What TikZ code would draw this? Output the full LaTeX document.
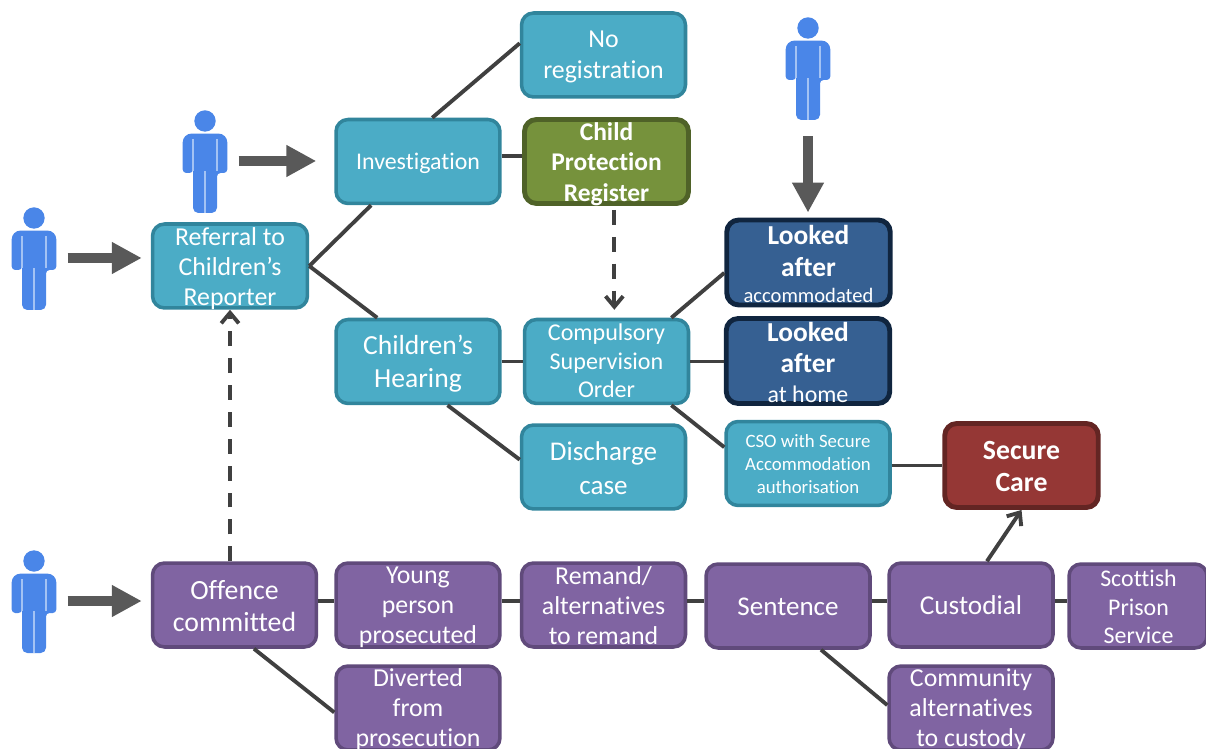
\documentclass[tikz,border=0pt]{standalone}
\usepackage{fontspec}
\setmainfont{Carlito}[Ligatures=NoCommon]
\usetikzlibrary{arrows.meta}

\definecolor{tealfill}{HTML}{4BACC6}
\definecolor{tealline}{HTML}{31859C}
\definecolor{purplefill}{HTML}{8064A2}
\definecolor{purpleline}{HTML}{604A7B}
\definecolor{navyfill}{HTML}{366092}
\definecolor{navyline}{HTML}{10253F}
\definecolor{greenfill}{HTML}{76923C}
\definecolor{greenline}{HTML}{4F6228}
\definecolor{redfill}{HTML}{953735}
\definecolor{redline}{HTML}{632523}
\definecolor{personblue}{HTML}{4A86E8}
\definecolor{arrowgrey}{HTML}{595959}
\definecolor{linkgrey}{HTML}{404040}

\tikzset{
    box/.style={rectangle, rounded corners=0.24cm, minimum width=3.28cm, minimum height=1.68cm, inner sep=0pt, line width=2pt},
    tealbox/.style={box, draw=tealline, fill=tealfill},
    purplebox/.style={box, draw=purpleline, fill=purplefill},
    navybox/.style={box, draw=navyline, fill=navyfill, line width=2.8pt, minimum width=3.27cm, minimum height=1.7cm},
    greenbox/.style={box, draw=greenline, fill=greenfill, line width=2.8pt},
    redbox/.style={box, draw=redline, fill=redfill, line width=2.8pt},
    every label/.style={inner sep=0pt, align=center, text=white, yshift=-1.1pt, font=\fontsize{14.7}{17}\selectfont},
    link/.style={draw=linkgrey, line width=2.2pt},
    dashlink/.style={link, dash pattern=on 8.5pt off 6.8pt, -{Straight Barb[length=6pt,width=10pt]}},
    bigarrow/.style={draw=arrowgrey, line width=5.7pt, -{Triangle[length=17pt,width=17pt]}},
    pics/person/.style={code={
        \node[inner sep=0pt, minimum width=0.89cm, minimum height=2.04cm] (-box) at (0,40) {};
        \fill[personblue] (0,0) circle (10.7);
        \fill[personblue, rounded corners=2pt] (-12,50) [rounded corners=2pt] -- (-12,52) -- (-22.3,52) -- (-22.3,30) [rounded corners=5pt] -- (-22.3,12.6) -- (22.3,12.6) -- (22.3,30) [rounded corners=2pt] -- (22.3,52) -- (12,52) [rounded corners=3pt] -- (12,92) -- (0,92) -- (-12,92) [rounded corners=2pt] -- cycle;
        \draw[white!50!personblue, line width=0.6pt] (-12,18) -- (-12,50) (12,18) -- (12,50) (0,50) -- (0,92);
    }}
}

\begin{document}
\begin{tikzpicture}[x=0.02cm,y=-0.02cm]

    \clip (0,0) rectangle (1206,749);

    % these are the people
    \pic (first) at (34,218) {person};
    \pic (second) at (205,121) {person};
    \pic (third) at (808,28) {person};
    \pic (fourth) at (34,561) {person};

    % the welfare side
    \node[tealbox, minimum width=3.1cm, label={[yshift=-0.5pt]center:Referral to\\Children’s\\Reporter}] (referral) at (230,266) {};
    \node[tealbox, label={[font=\fontsize{13.6}{17}\selectfont]center:Investigation}] (investigation) at (418,161.5) {};
    \node[tealbox, label={[font=\fontsize{14.7}{17.6}\selectfont]center:No\\registration}] (noreg) at (603.5,55) {};
    \node[greenbox, label={[yshift=-0.3pt, font=\fontsize{14.5}{17.3}\selectfont\bfseries]center:Child\\Protection\\Register}] (register) at (606.5,161.5) {};
    \node[tealbox, label={[font=\fontsize{15.7}{19}\selectfont]center:Children’s\\Hearing}] (hearing) at (418,361.5) {};
    \node[tealbox, label={[yshift=1.4pt, font=\fontsize{13.7}{16.3}\selectfont]center:Compulsory\\Supervision\\Order}] (supervision) at (606.5,361.5) {};
    \node[tealbox, label={[yshift=0.5pt, font=\fontsize{15.4}{19}\selectfont]center:Discharge\\case}] (discharge) at (603.5,467) {};
    \node[navybox, label={[font=\fontsize{15.6}{18}\selectfont]center:\textbf{Looked}\\\textbf{after}\\[-3pt]{\fontsize{11.7}{15}\selectfont accommodated}}] (accommodated) at (808.5,262.5) {};
    \node[navybox, label={[yshift=0.4pt, font=\fontsize{15.6}{18}\selectfont]center:\textbf{Looked}\\\textbf{after}\\[-1pt]{\fontsize{13.6}{15}\selectfont at home}}] (athome) at (808,361) {};
    \node[tealbox, label={[yshift=0.7pt, font=\fontsize{10.7}{13}\selectfont]center:CSO with Secure\\Accommodation\\authorisation}] (securecso) at (808,463.5) {};
    \node[redbox, minimum width=3.07cm, label={[yshift=0.5pt, font=\fontsize{15.8}{18.5}\selectfont\bfseries]center:Secure\\Care}] (securecare) at (1021.5,465.5) {};

    % the offending side
    \node[purplebox, label={[yshift=0.5pt, font=\fontsize{15.8}{18}\selectfont]center:Offence\\committed}] (offence) at (234.5,605) {};
    \node[purplebox, label={center:Young\\person\\prosecuted}] (young) at (418,605) {};
    \node[purplebox, label={[yshift=0.7pt]center:Remand/\\alternatives\\to remand}] (remand) at (603.5,605) {};
    \node[purplebox, label={[yshift=0.5pt, font=\fontsize{15.4}{18}\selectfont]center:Sentence}] (sentence) at (788,606) {};
    \node[purplebox, label={[yshift=1pt, font=\fontsize{15.5}{18}\selectfont]center:Custodial}] (custodial) at (971,605) {};
    \node[purplebox, minimum width=2.76cm, label={[yshift=0.6pt, xshift=0.3pt, font=\fontsize{13.6}{16.4}\selectfont]center:Scottish\\Prison\\Service}] (prison) at (1138,606) {};
    \node[purplebox, label={center:Diverted\\from\\prosecution}] (diverted) at (418,708) {};
    \node[purplebox, label={center:Community\\alternatives\\to custody}] (community) at (971,708) {};

    % the big arrows
    \draw[bigarrow, shorten <=0.22cm, shorten >=0.18cm] (first-box) -- (first-box -| referral.west);
    \draw[bigarrow, shorten <=0.22cm, shorten >=0.36cm] (second-box) -- (second-box -| investigation.west);
    \draw[bigarrow, shorten <=0.34cm, shorten >=0.1cm] (third-box) -- (third-box |- accommodated.north);
    \draw[bigarrow, shorten <=0.22cm, shorten >=0.18cm] (fourth-box) -- (fourth-box -| offence.west);

    % these are the links
    \draw[link] (referral.east) -- (investigation.223);
    \draw[link] (referral.east) -- (hearing.133);
    \draw[link] (investigation.72) -- (noreg.172);
    \draw[link] (investigation.4) -- (investigation.4 -| register.west);
    \draw[link] (hearing) -- (supervision);
    \draw[link] (hearing.-56) -- (discharge.175);
    \draw[link] (supervision.34) -- (accommodated.187);
    \draw[link] (supervision.east) -- (supervision.east -| athome.west);
    \draw[link] (supervision.-34) -- (securecso.169);
    \draw[link] (securecare.west -| securecso.east) -- (securecare.west);
    \draw[link] (offence.3) -- (offence.3 -| young.west);
    \draw[link] (young.3) -- (young.3 -| remand.west);
    \draw[link] (remand.3) -- (remand.3 -| sentence.west);
    \draw[link] (custodial.177) -- (custodial.177 -| sentence.east);
    \draw[link] (custodial.3) -- (custodial.3 -| prison.west);
    \draw[link] (offence.-66) -- (diverted.183);
    \draw[link] (sentence.-53) -- (community.178);
    \draw[link, -{Straight Barb[length=6pt,width=10pt]}] (custodial.70) -- (securecare.south);
    \draw[dashlink, shorten <=0.08cm, shorten >=0.16cm] (register.-80) -- (register.-80 |- supervision.north);
    \draw[dashlink] (offence.north -| referral.south) -- (referral.south);

\end{tikzpicture}
\end{document}
